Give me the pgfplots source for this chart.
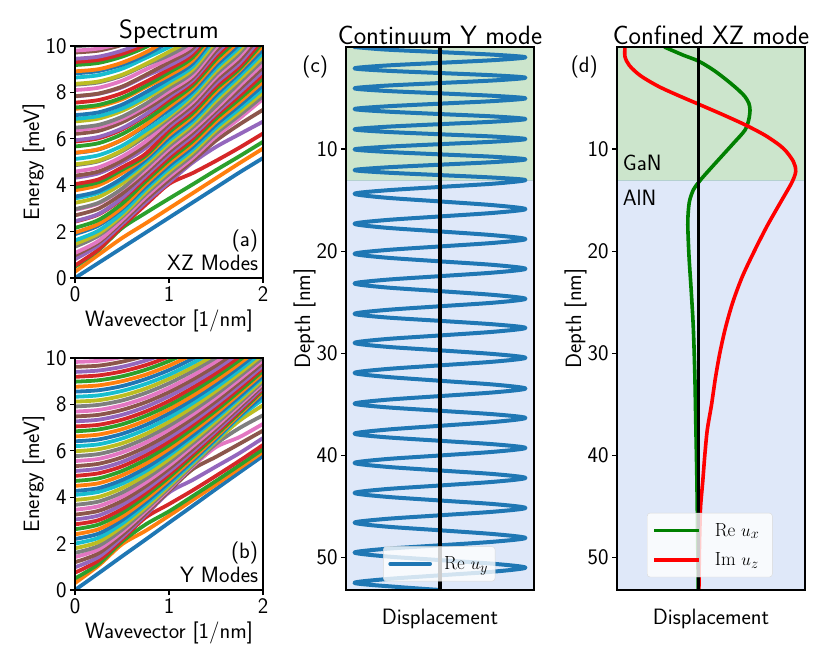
\documentclass[border=0pt]{standalone}
\usepackage{fontspec}
\usepackage{pgfplots}
\usepackage{pgfplotstable}
\pgfplotsset{compat=1.18}

\definecolor{c0}{HTML}{1F77B4}
\definecolor{c1}{HTML}{FF7F0E}
\definecolor{c2}{HTML}{2CA02C}
\definecolor{c3}{HTML}{D62728}
\definecolor{c4}{HTML}{9467BD}
\definecolor{c5}{HTML}{8C564B}
\definecolor{c6}{HTML}{E377C2}
\definecolor{c7}{HTML}{7F7F7F}
\definecolor{c8}{HTML}{BCBD22}
\definecolor{c9}{HTML}{17BECF}
\definecolor{ganbg}{HTML}{CCE5CC}
\definecolor{alnbg}{HTML}{DFE8F9}
\definecolor{edgebg}{HTML}{B4D0D0}
\definecolor{mgreen}{HTML}{008000}

\newcommand{\lbl}{\sffamily\fontsize{22.2}{26}\selectfont}

% one row per wavevector, then the energy of each mode at it
\pgfplotstableread[header=false]{
0 0 .27 .49 .54 .81 .98 1.08 1.35 1.47 1.62 1.89 1.96 2.16 2.43 2.45 2.70 2.94 2.97 3.24 3.43 3.51 3.78 3.92 4.05 4.32 4.41 4.59 4.86 4.90 5.13 5.39 5.40 5.67 5.88 5.94 6.21 6.37 6.48 6.75 6.86 7.02 7.29 7.35 7.56 7.83 7.84 8.10 8.33 8.37 8.64 8.82 8.91 9.18 9.31 9.45 9.72 9.80 9.99
.25 .65 1.00 1.20 1.23 1.41 1.53 1.60 1.82 1.91 2.04 2.26 2.33 2.50 2.74 2.76 2.99 3.21 3.24 3.49 3.67 3.74 4.0 4.13 4.25 4.51 4.59 4.77 5.03 5.06 5.29 5.54 5.55 5.81 6.02 6.08 6.34 6.5 6.6 6.87 6.98 7.14 7.4 7.46 7.67 7.94 7.95 8.2 8.43 8.47 8.74 8.92 9.0 9.27 9.4 9.54 9.8 9.89 10.07
.5 1.30 1.72 2.15 2.22 2.33 2.42 2.50 2.63 2.70 2.80 2.98 3.04 3.2 3.4 3.45 3.63 3.82 3.85 4.07 4.22 4.30 4.52 4.66 4.77 4.98 5.07 5.23 5.46 5.5 5.7 5.95 5.96 6.2 6.4 6.45 6.71 6.85 6.95 7.2 7.3 7.47 7.7 7.77 7.97 8.22 8.25 8.5 8.72 8.76 9.02 9.19 9.28 9.54 9.66 9.8 10.05 10.13 10.32
.75 1.95 2.35 2.8 3.15 3.26 3.37 3.48 3.6 3.7 3.82 3.93 4.04 4.16 4.28 4.4 4.52 4.64 4.76 4.88 5.0 5.1 5.2 5.27 5.35 5.6 5.73 5.88 6.1 6.2 6.35 6.55 6.6 6.8 7.0 7.05 7.26 7.4 7.5 7.72 7.82 8.0 8.22 8.28 8.45 8.7 8.75 8.98 9.18 9.22 9.48 9.61 9.72 9.95 10.06 10.2 10.45 10.55 10.7
1 2.6 3.0 3.42 4.05 4.12 4.24 4.36 4.48 4.6 4.72 4.84 4.96 5.08 5.2 5.32 5.44 5.56 5.68 5.8 5.92 6.04 6.16 6.28 6.4 6.52 6.64 6.76 6.86 6.96 7.05 7.25 7.38 7.52 7.68 7.8 7.92 8.05 8.18 8.32 8.45 8.59 8.73 8.86 9.0 9.15 9.3 9.45 9.6 9.75 9.95 10.16 10.3 10.5 10.65 10.8 11 11.1 11.3
1.25 3.25 3.65 4.03 4.52 4.97 5.05 5.17 5.29 5.41 5.53 5.65 5.77 5.89 6.01 6.13 6.25 6.37 6.49 6.61 6.73 6.85 6.97 7.09 7.21 7.33 7.45 7.57 7.69 7.81 7.93 8.05 8.17 8.29 8.41 8.52 8.62 8.72 8.85 8.98 9.11 9.24 9.37 9.5 9.63 9.76 9.89 10.02 10.2 10.35 10.5 10.7 10.85 11 11.15 11.3 11.5 11.6 11.8
1.5 3.9 4.3 4.65 5.05 5.65 5.92 6.10 6.23 6.36 6.48 6.61 6.74 6.87 7.0 7.1 7.2 7.3 7.42 7.63 7.76 7.89 8.02 8.15 8.27 8.4 8.53 8.66 8.78 8.91 9.04 9.16 9.29 9.42 9.55 9.68 9.8 9.93 10.06 10.2 10.35 10.5 10.62 10.75 10.88 11 11.13 11.26 11.4 11.55 11.7 11.85 12 12.15 12.3 12.45 12.6 12.75 12.9
1.75 4.55 4.95 5.25 5.62 6.2 6.62 6.88 7.02 7.16 7.3 7.44 7.58 7.72 7.86 8.0 8.14 8.28 8.42 8.56 8.7 8.84 8.95 9.02 9.12 9.26 9.4 9.54 9.68 9.82 9.96 10.1 10.24 10.38 10.52 10.66 10.8 10.94 11.08 11.22 11.36 11.5 11.66 11.82 11.98 12.14 12.3 12.46 12.62 12.78 12.94 13.1 13.26 13.42 13.58 13.74 13.9 14.06 14.22
2 5.17 5.58 5.87 6.23 6.74 7.25 7.72 7.84 8.0 8.15 8.3 8.46 8.61 8.77 8.92 9.08 9.23 9.39 9.54 9.7 9.85 10.01 10.16 10.3 10.46 10.6 10.76 10.9 11.06 11.2 11.36 11.52 11.68 11.84 12 12.16 12.32 12.48 12.64 12.8 12.96 13.12 13.28 13.44 13.6 13.76 13.92 14.08 14.24 14.4 14.56 14.72 14.88 15.04 15.2 15.36 15.52 15.68
}\specxz

\pgfplotstableread[header=false]{
0 0 .3 .5 .75 .98 1.2 1.42 1.6 1.8 2.0 2.2 2.4 2.62 2.83 3.04 3.25 3.46 3.67 3.88 4.1 4.27 4.49 4.7 4.92 5.13 5.34 5.56 5.77 5.98 6.2 6.41 6.62 6.84 7.05 7.27 7.48 7.69 7.91 8.12 8.33 8.55 8.76 8.98 9.19 9.4 9.62 9.83
.25 .72 1.05 1.12 1.27 1.42 1.58 1.75 1.9 2.07 2.25 2.43 2.62 2.82 3.01 3.21 3.41 3.61 3.81 4.01 4.23 4.39 4.6 4.81 5.03 5.23 5.44 5.65 5.86 6.07 6.28 6.49 6.7 6.92 7.12 7.34 7.55 7.76 7.98 8.18 8.39 8.61 8.82 9.04 9.25 9.46 9.67 9.88
.5 1.45 1.97 2.08 2.18 2.27 2.37 2.49 2.6 2.73 2.86 3.01 3.16 3.33 3.49 3.67 3.84 4.02 4.2 4.39 4.58 4.74 4.94 5.13 5.33 5.52 5.72 5.93 6.12 6.32 6.53 6.73 6.93 7.14 7.34 7.55 7.76 7.96 8.17 8.37 8.58 8.79 9.0 9.21 9.42 9.62 9.84 10.04
.75 2.17 2.55 2.82 3.12 3.23 3.3 3.39 3.47 3.56 3.67 3.78 3.9 4.04 4.18 4.32 4.47 4.63 4.79 4.95 5.12 5.26 5.44 5.62 5.8 5.98 6.16 6.35 6.54 6.72 6.92 7.11 7.3 7.5 7.69 7.89 8.09 8.28 8.49 8.68 8.88 9.09 9.28 9.49 9.69 9.89 10.1 10.3
1 2.9 3.2 3.39 3.7 4.2 4.27 4.34 4.4 4.48 4.56 4.65 4.75 4.86 4.98 5.1 5.23 5.36 5.5 5.64 5.8 5.92 6.08 6.24 6.4 6.57 6.73 6.91 7.08 7.25 7.43 7.61 7.79 7.97 8.15 8.35 8.53 8.71 8.91 9.1 9.28 9.48 9.67 9.87 10.06 10.25 10.46 10.65
1.25 3.62 3.87 4.04 4.29 4.74 5.2 5.32 5.37 5.44 5.5 5.58 5.66 5.76 5.86 5.96 6.07 6.19 6.31 6.43 6.57 6.67 6.82 6.96 7.11 7.25 7.4 7.56 7.72 7.88 8.05 8.21 8.37 8.55 8.72 8.9 9.07 9.24 9.43 9.6 9.78 9.97 10.15 10.34 10.52 10.71 10.9 11.09
1.5 4.35 4.55 4.7 4.92 5.32 5.74 6.16 6.3 6.41 6.47 6.53 6.6 6.68 6.77 6.86 6.95 7.05 7.16 7.27 7.39 7.49 7.61 7.74 7.87 8.01 8.14 8.29 8.43 8.58 8.73 8.88 9.03 9.2 9.35 9.52 9.68 9.85 10.02 10.18 10.35 10.53 10.7 10.88 11.06 11.23 11.42 11.59
1.75 5.07 5.25 5.38 5.57 5.9 6.3 6.59 6.98 7.3 7.45 7.51 7.57 7.64 7.71 7.79 7.88 7.97 8.06 8.16 8.27 8.35 8.47 8.58 8.7 8.82 8.95 9.08 9.21 9.34 9.48 9.62 9.76 9.91 10.06 10.22 10.37 10.52 10.68 10.84 11 11.16 11.32 11.5 11.66 11.83 12 12.17
2 5.78 5.95 6.07 6.25 6.55 6.87 7.16 7.53 7.96 8.22 8.38 8.54 8.61 8.67 8.74 8.82 8.9 8.98 9.07 9.17 9.24 9.35 9.45 9.56 9.67 9.78 9.91 10.02 10.15 10.28 10.41 10.54 10.68 10.81 10.96 11.1 11.24 11.39 11.54 11.69 11.84 12 12.16 12.31 12.47 12.64 12.8
}\specy

\pgfplotsset{
  every axis/.append style={
    scale only axis, anchor=south west,
    axis line style={line width=2.8pt},
    tick style={black, line width=1.2pt, major tick length=5pt},
    tick align=outside, xtick pos=bottom, ytick pos=left,
    tick label style={font=\lbl, /pgf/number format/assume math mode=true},
    label style={font=\lbl},
    title style={font=\sffamily\fontsize{26.5}{30}\selectfont, yshift=-7pt},
    xlabel style={yshift=-1pt},
    clip mode=individual,
  },
  spec/.style={
    width=188pt, height=232pt,
    xmin=0, xmax=2, ymin=0, ymax=10,
    xtick={0,1,2}, ytick={0,2,4,6,8,10},
    xlabel={Wavevector [1/nm]}, ylabel={Energy [meV]},
    ylabel style={yshift=-6pt},
    cycle list={c0,c1,c2,c3,c4,c5,c6,c7,c8,c9},
    every axis plot/.append style={line width=3.8pt, smooth, no markers},
    axis on top,
  },
  depth/.style={
    width=188pt, height=543pt,
    y dir=reverse, ymin=0, ymax=53.2,
    xtick=\empty, ytick={10,20,30,40,50},
    xlabel={Displacement}, ylabel={Depth [nm]},
    xlabel style={yshift=-10pt},
    ylabel style={yshift=-6pt},
    axis on top,
    legend style={draw=black!15, rounded corners=3pt, fill=white, fill opacity=0.8, text opacity=1,
      font=\fontsize{19}{23}\selectfont, row sep=11pt, inner xsep=5pt, inner ysep=8pt},
    legend cell align=left,
  },
}

\begin{document}
\begin{tikzpicture}[x=1pt,y=1pt]
\path[use as bounding box] (0,0) rectangle (830,664);

\begin{axis}[spec, at={(75pt,386pt)}, title={Spectrum}]
\pgfplotsinvokeforeach{1,...,58}{\addplot table[x index=0,y index=#1]{\specxz};}
\node[anchor=east,font=\lbl] at (axis cs:1.985,1.58) {(a)};
\node[anchor=east,font=\lbl] at (axis cs:1.985,0.65) {XZ Modes};
\end{axis}

\begin{axis}[spec, at={(75pt,74pt)}]
\pgfplotsinvokeforeach{1,...,47}{\addplot table[x index=0,y index=#1]{\specy};}
\node[anchor=east,font=\lbl] at (axis cs:1.985,1.58) {(b)};
\node[anchor=east,font=\lbl] at (axis cs:1.985,0.65) {Y Modes};
\end{axis}

\begin{axis}[depth, at={(346pt,74pt)}, xmin=-1.1, xmax=1.1, title={Continuum Y mode},
  legend style={at={(axis cs:-0.665,52.35)}, anchor=south west},
  legend image code/.code={\draw[#1, line width=3.6pt] (0pt,0pt) -- (40pt,0pt); \path (50pt,0pt);}]
\addplot[draw=none, fill=ganbg, forget plot] coordinates {(-1.1,0)(1.1,0)(1.1,13.1)(-1.1,13.1)} -- cycle;
\addplot[draw=none, fill=alnbg, forget plot] coordinates {(-1.1,13.1)(1.1,13.1)(1.1,53.2)(-1.1,53.2)} -- cycle;
\addplot[edgebg, line width=1pt, forget plot] coordinates {(-1.1,13.1)(1.1,13.1)};
\addplot[c0, line width=4pt, smooth, line join=round, line cap=round] coordinates {
(-1,0)(-.64,.25)(0,.5)(.64,.76)(1,1.01)(.64,1.28)(0,1.55)(-.64,1.82)
(-1,2.09)(-.64,2.32)(0,2.55)(.64,2.78)(1,3.01)(.64,3.27)(0,3.53)(-.64,3.79)
(-1,4.05)(-.64,4.3)(0,4.54)(.64,4.79)(1,5.03)(.64,5.29)(0,5.55)(-.64,5.82)
(-1,6.08)(-.64,6.32)(0,6.57)(.64,6.81)(1,7.06)(.64,7.31)(0,7.56)(-.64,7.82)
(-1,8.07)(-.64,8.31)(0,8.55)(.64,8.78)(1,9.02)(.64,9.27)(0,9.52)(-.64,9.78)
(-1,10.03)(-.64,10.27)(0,10.52)(.64,10.76)(1,11.01)(.64,11.27)(0,11.53)(-.64,11.8)
(-1,12.06)(-.64,12.3)(0,12.55)(.64,12.8)(1,13.04)(.64,13.38)(0,13.71)(-.64,14.05)
(-1,14.38)(-.64,14.76)(0,15.13)(.64,15.51)(1,15.88)(.64,16.24)(0,16.6)(-.64,16.96)
(-1,17.32)(-.64,17.7)(0,18.07)(.64,18.45)(1,18.82)(.64,19.18)(0,19.54)(-.64,19.9)
(-1,20.26)(-.64,20.63)(0,21)(.64,21.36)(1,21.73)(.64,22.09)(0,22.45)(-.64,22.81)
(-1,23.17)(-.64,23.55)(0,23.92)(.64,24.3)(1,24.67)(.64,25.04)(0,25.4)(-.64,25.77)
(-1,26.14)(-.64,26.49)(0,26.83)(.64,27.18)(1,27.52)(.64,27.89)(0,28.26)(-.64,28.62)
(-1,28.99)(-.64,29.36)(0,29.72)(.64,30.09)(1,30.45)(.64,30.82)(0,31.19)(-.64,31.56)
(-1,31.93)(-.64,32.31)(0,32.7)(.64,33.08)(1,33.46)(.64,33.83)(0,34.2)(-.64,34.57)
(-1,34.94)(-.64,35.29)(0,35.64)(.64,35.99)(1,36.34)(.64,36.73)(0,37.11)(-.64,37.5)
(-1,37.88)(-.64,38.23)(0,38.58)(.64,38.93)(1,39.28)(.64,39.65)(0,40.02)(-.64,40.38)
(-1,40.75)(-.64,41.12)(0,41.49)(.64,41.85)(1,42.22)(.64,42.59)(0,42.96)(-.64,43.32)
(-1,43.69)(-.64,44.06)(0,44.43)(.64,44.79)(1,45.16)(.64,45.52)(0,45.88)(-.64,46.24)
(-1,46.6)(-.64,46.98)(0,47.35)(.64,47.73)(1,48.1)(.64,48.46)(0,48.82)(-.64,49.17)
(-1,49.53)(-.64,49.9)(0,50.27)(.64,50.64)(1,51.01)(.64,51.39)(0,51.76)(-.64,52.14)
(-1,52.51)(-.5,52.9)(0,53.2)
};
\addlegendentry{$\mathrm{Re}\ u_y$}
\addplot[black, line width=3.4pt, forget plot] coordinates {(0,0)(0,53.2)};
\node[font=\lbl] at (axis cs:-1.46,2) {(c)};
\end{axis}

\begin{axis}[depth, at={(617pt,74pt)}, xmin=-0.813, xmax=1.067, title={Confined XZ mode},
  legend style={at={(axis cs:-0.513,51.95)}, anchor=south west},
  legend image code/.code={\draw[#1, line width=3.6pt] (0pt,0pt) -- (45pt,0pt); \path (57pt,0pt);}]
\addplot[draw=none, fill=ganbg, forget plot] coordinates {(-.813,0)(1.067,0)(1.067,13.1)(-.813,13.1)} -- cycle;
\addplot[draw=none, fill=alnbg, forget plot] coordinates {(-.813,13.1)(1.067,13.1)(1.067,53.2)(-.813,53.2)} -- cycle;
\addplot[edgebg, line width=1pt, forget plot] coordinates {(-.813,13.1)(1.067,13.1)};
\addplot[mgreen, line width=3.6pt, smooth] coordinates {
(-.34,0)(-.15,.8)(0,1.37)(.15,2.25)(.284,3.24)(.40,4.2)(.467,4.87)(.505,5.5)(.517,6.18)(.505,7.1)(.467,8.14)(.35,9.45)(.184,11.24)(.05,12.7)(0,13.3)
(-.05,14)(-.09,15.2)(-.105,17)(-.1,19)(-.09,21)(-.07,24)(-.05,27.5)(-.035,32)(-.025,37)(-.015,42)(-.008,47)(0,53.2)
};
\addlegendentry{$\mathrm{Re}\ u_x$\hspace*{6pt}}
\addplot[red, line width=3.6pt, smooth] coordinates {
(-.733,0)(-.733,.95)(-.69,1.8)(-.58,2.8)(-.4,3.85)(-.2,4.75)(0,5.59)(.25,6.65)(.484,7.7)(.684,8.75)(.85,9.93)(.95,11.2)(.974,12.2)(.934,13.3)
(.835,15)(.69,17.5)(.56,20)(.44,22.5)(.345,25)(.272,27.5)(.215,30)(.17,32.5)(.133,35)(.09,37.5)(.065,40)(.045,42.5)(.023,45)(.015,47.5)(.01,50)(.006,53.2)
};
\addlegendentry{$\mathrm{Im}\ u_z$\hspace*{6pt}}
\addplot[black, line width=3.4pt, forget plot] coordinates {(0,0)(0,53.2)};
\node[font=\lbl] at (axis cs:-1.14,2) {(d)};
\node[font=\lbl,anchor=west] at (axis cs:-.79,11.4) {GaN};
\node[font=\lbl,anchor=west] at (axis cs:-.79,14.8) {AlN};
\end{axis}
\end{tikzpicture}
\end{document}
